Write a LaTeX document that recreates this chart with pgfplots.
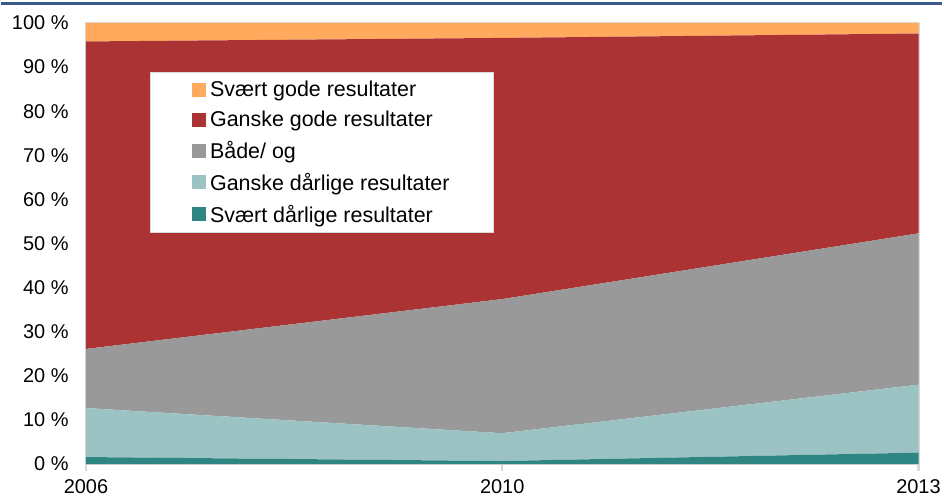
\documentclass[border=0pt]{standalone}
\usepackage{fontspec}
\setmainfont{Liberation Sans}
\usepackage{pgfplots}
\pgfplotsset{compat=1.18}
\definecolor{cSG}{HTML}{FFAA5C}
\definecolor{cGG}{HTML}{AB3333}
\definecolor{cBO}{HTML}{999999}
\definecolor{cGD}{HTML}{9BC3C3}
\definecolor{cSD}{HTML}{2F8582}
\definecolor{cAx}{HTML}{D9D9D9}
\definecolor{cTop}{HTML}{3D5A8C}
\begin{document}
\begin{tikzpicture}
\begin{axis}[
  name=ax,
  scale only axis, width=835pt, height=442.5pt,
  xmin=0, xmax=2, ymin=0, ymax=100,
  stack plots=y,
  clip=false,
  xtick={0,1,2}, xticklabels={2006,2010,2013},
  ytick={0,10,...,100},
  yticklabel={\pgfmathprintnumber{\tick}~\%},
  /pgf/number format/assume math mode=true,
  tick label style={font=\fontsize{20}{22}\selectfont, text=black},
  axis line style={draw=cAx, line width=2pt},
  tick pos=left,
  tick align=outside,
  major tick length=7pt,
  xtick style={draw=cAx, line width=2.5pt},
  ytick style={draw=none},
  yticklabel style={xshift=-7pt},
  xticklabel style={yshift=-5pt},
  reverse legend,
  legend cell align=left,
  legend style={at={(0.0766,0.889)}, anchor=north west, draw=cAx, line width=1pt, fill=white,
    font=\fontsize{21.5}{24}\selectfont, row sep=9pt, inner xsep=42pt, inner ysep=7pt},
  legend image code/.code={\fill[#1] (-4pt,-7pt) rectangle (10pt,7pt);},
]
\addplot[fill=cSD, draw=none] coordinates {(0,1.6) (1,0.7) (2,2.6)} \closedcycle;
\addlegendentry{\hspace{2pt}Svært dårlige resultater}
\addplot[fill=cGD, draw=none] coordinates {(0,11.1) (1,6.3) (2,15.4)} \closedcycle;
\addlegendentry{\hspace{2pt}Ganske dårlige resultater}
\addplot[fill=cBO, draw=none] coordinates {(0,13.4) (1,30.4) (2,34.3)} \closedcycle;
\addlegendentry{\hspace{2pt}Både/ og}
\addplot[fill=cGG, draw=none] coordinates {(0,69.7) (1,59.2) (2,45.3)} \closedcycle;
\addlegendentry{\hspace{2pt}Ganske gode resultater}
\addplot[fill=cSG, draw=none] coordinates {(0,4.2) (1,3.4) (2,2.4)} \closedcycle;
\addlegendentry{\hspace{2pt}Svært gode resultater}
\end{axis}
\draw[cTop, line width=2.5pt] ([xshift=-85pt,yshift=19.5pt]ax.north west) -- ++(944pt,0pt);
\path ([xshift=-85pt,yshift=23pt]ax.north west) rectangle ++(944pt,-500pt);
\end{tikzpicture}
\end{document}
